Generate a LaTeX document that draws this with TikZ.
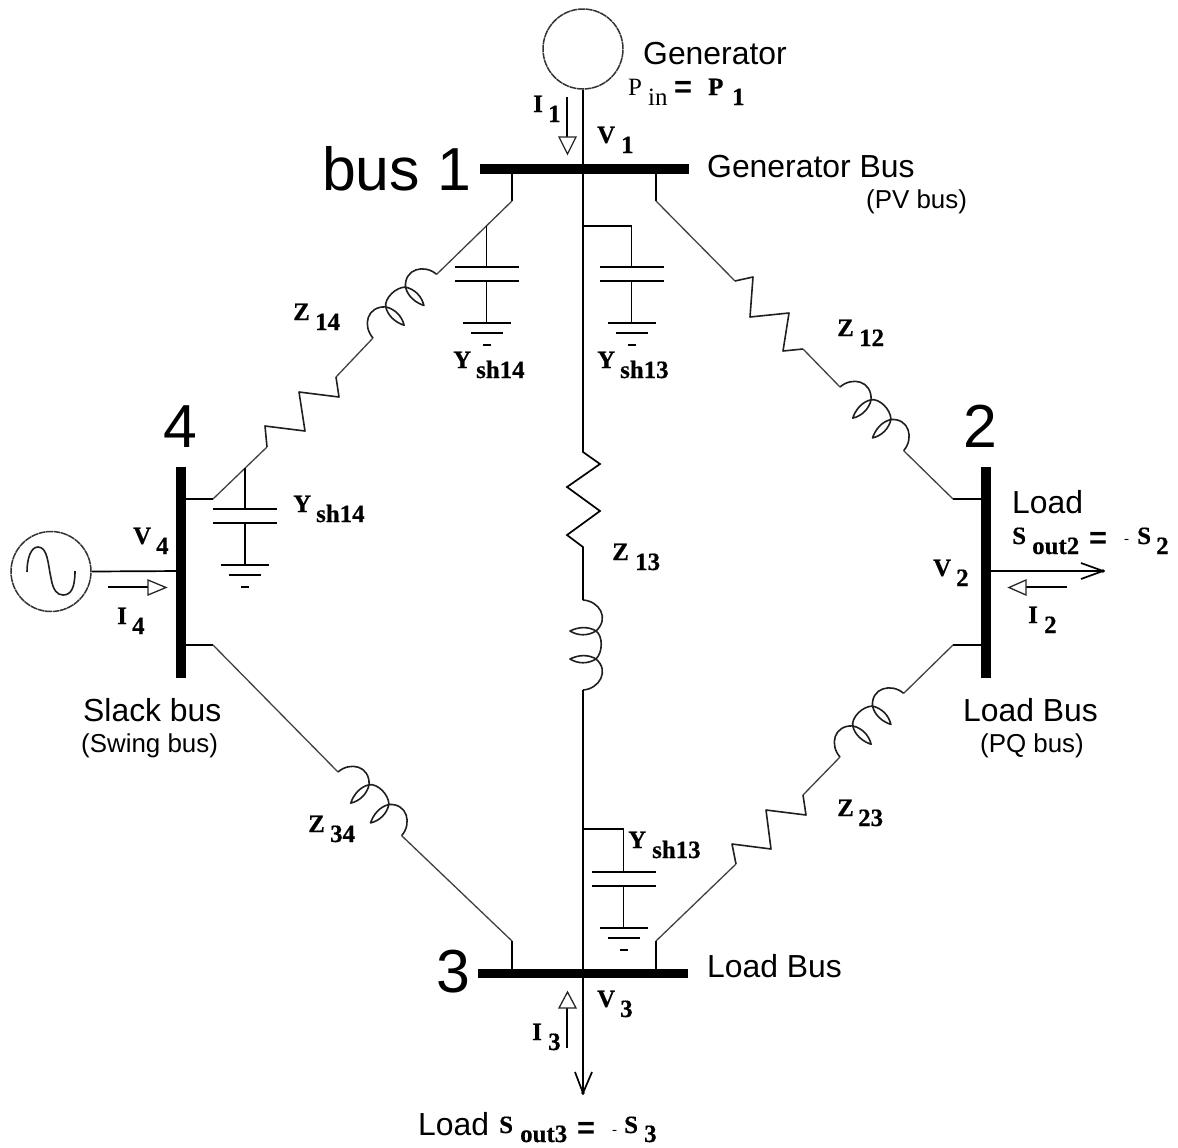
\documentclass[tikz,border=0pt]{standalone}
\usepackage{fontspec}
\setmainfont{Liberation Serif}[BoldFeatures={FakeBold=0.5}]
\setsansfont{Liberation Sans}
\newcommand{\subl}[3]{\makebox[#1bp][l]{#2}\raisebox{-10bp}{#3}}
\newcommand{\sublow}[3]{\makebox[#1bp][l]{#2}\raisebox{-9bp}{#3}}
\tikzset{
  wire/.style={line width=1.7bp,black,line join=miter},
  thinwire/.style={line width=1.3bp,black!75,line join=miter},
  stair/.style={line width=1.6bp,black!88,line join=round},
  busbar/.style={fill=black,draw=none,inner sep=0,rectangle},
  gen/.style={circle,draw=black!80,line width=1.5bp,dash pattern=on 7bp off 0.6bp,inner sep=0,minimum size=80bp},
  hollow/.style={draw=black!85,fill=white,line width=1.3bp,line join=miter},
  txt/.style={inner sep=0,anchor=base west},
  big/.style={txt,font=\sffamily\fontsize{61}{61}\selectfont},
  med/.style={txt,font=\sffamily\fontsize{32}{32}\selectfont},
  small/.style={txt,font=\sffamily\fontsize{26}{26}\selectfont},
  val/.style={txt,font=\bfseries\fontsize{25}{25}\selectfont},
  eqs/.style={txt,font=\sffamily\bfseries\fontsize{31}{31}\selectfont},
  dashmark/.style={txt,font=\fontsize{15}{15}\selectfont},
  inductor/.pic={
    \coordinate (-in) at (0,0);
    \coordinate (-out) at (0,90);
    \draw[stair]
      (0,0) .. controls (16,1) and (27,18) .. (13,31)
      .. controls (5,26) and (-5,27) .. (-13,31)
      .. controls (-5,36) and (5,36) .. (13,31)
      .. controls (20,36) and (20,52) .. (13,59)
      .. controls (5,54) and (-5,55) .. (-13,59)
      .. controls (-5,64) and (5,64) .. (13,59)
      .. controls (27,71) and (16,89) .. (0,90);
  },
  capgnd/.pic={
    \draw[wire] (-32,0) -- (32,0);
    \draw[wire] (-32,14) -- (32,14);
    \draw[wire] (0,14) -- (0,56);
    \draw[wire] (-24,56) -- (24,56);
    \draw[wire] (-16,66) -- (16,66);
    \draw[wire] (-4,78) -- (4,78);
  },
}
\begin{document}
\begin{tikzpicture}[x=1bp,y=-1bp]
\useasboundingbox (0,0) rectangle (1178,1148);

% buses
\node[busbar,minimum width=209bp,minimum height=10bp] (bus1) at (584,169) {};
\node[busbar,minimum width=210bp,minimum height=9.5bp] (bus3) at (583,973.5) {};
\node[busbar,minimum width=10bp,minimum height=211bp] (bus4) at (181,572.5) {};
\node[busbar,minimum width=10bp,minimum height=211bp] (bus2) at (986,572.5) {};

% generators
\node[gen] (g1) at (583,49) {};
\node[gen] (g4) at (51,571.5) {};
\draw[stair] (27,572) .. controls (27,558) and (31,547) .. (38,547)
  .. controls (48,547) and (48,565) .. (51,578)
  .. controls (53,590) and (57,595) .. (63,595)
  .. controls (71,595) and (75,588) .. (75,571);

% junctions
\coordinate (t14) at (512,169);
\coordinate (t12) at (656,169);
\coordinate (b34) at (512,973);
\coordinate (b23) at (656,973);
\coordinate (l14) at (181,499);
\coordinate (l34) at (181,645);
\coordinate (r12) at (986,499);
\coordinate (r23) at (986,645);
\coordinate (m4) at (181,571);
\coordinate (m2) at (986,571);
\coordinate (tip3) at (583,1093);
\coordinate (tip2) at (1103,571);

% inductors
\pic (L12) [rotate=45] at (840,387) {inductor};
\pic (L34) [rotate=45] at (338,772) {inductor};
\pic (L14) [rotate=135] at (373,338) {inductor};
\pic (L23) [rotate=135] at (840,757) {inductor};
\pic (L13) at (583,600) {inductor};

% main vertical line with resistor
\draw[wire] (g1.south) -- (583,452) -- (600,464) -- (567,487) -- (600,511) -- (567,535) -- (583,547) -- (L13-in);
\draw[wire] (L13-out) -- (tip3);
\draw[wire] (575,1072) -- (tip3) -- (592,1072);
\fill (tip3) circle (1.8bp);

% line 1-2
\draw[wire] (t12) -- (656,201);
\draw[thinwire] (656,201) -- (735,281);
\draw[stair] (735,281) -- (753,277) -- (750,317) -- (789,313) -- (783,351) -- (803,349);
\draw[thinwire] (803,349) -- (L12-in);
\draw[thinwire] (L12-out) -- (953,499);
\draw[wire] (953,499) -- (r12);

% line 1-4
\draw[wire] (t14) -- (512,201);
\draw[thinwire] (512,201) -- (L14-out);
\draw[thinwire] (L14-in) -- (336,377);
\draw[stair] (336,377) -- (339,397) -- (299,392) -- (305,431) -- (265,426) -- (267,447);
\draw[thinwire] (267,447) -- (213,499);
\draw[wire] (213,499) -- (l14);

% line 2-3
\draw[wire] (r23) -- (953,645);
\draw[thinwire] (953,645) -- (L23-out);
\draw[thinwire] (L23-in) -- (803,795);
\draw[stair] (803,795) -- (806,815) -- (766,810) -- (771,849) -- (732,844) -- (736,864);
\draw[thinwire] (736,864) -- (656,941);
\draw[wire] (656,941) -- (b23);

% line 3-4
\draw[wire] (l34) -- (213,645);
\draw[thinwire] (213,645) -- (L34-in);
\draw[thinwire] (L34-out) -- (512,941);
\draw[wire] (512,941) -- (b34);

% shunts
\draw[wire] (486.5,226) -- (486.5,267);
\pic at (486.5,267) {capgnd};
\draw[wire] (583,226) -- (631.5,226) -- (631.5,267);
\pic at (631.5,267) {capgnd};
\draw[wire] (245,468) -- (245,509);
\pic at (245,509) {capgnd};
\draw[wire] (583,829) -- (623.5,829) -- (623.5,872);
\pic at (623.5,872) {capgnd};

% generator 4 and load 2
\draw[wire] (g4.east) -- (m4);
\draw[wire] (m2) -- (tip2);
\draw[wire] (1081,563) -- (tip2) -- (1081,579);
\fill (tip2) circle (1.8bp);

% current arrows
\draw[wire] (108,587) -- (148,587);
\draw[hollow] (148,580) -- (166,587.5) -- (148,595) -- cycle;
\draw[wire] (1067,587) -- (1026,587);
\draw[hollow] (1026,580) -- (1009,587.5) -- (1026,595) -- cycle;
\draw[wire] (567,97) -- (567,137);
\draw[hollow] (559,137) -- (567.5,154) -- (576,137) -- cycle;
\draw[wire] (567,1048) -- (567,1008);
\draw[hollow] (559,1008) -- (567.5,992) -- (576,1008) -- cycle;

% big labels
\node[big] (tbus1) at (322,190) {bus 1};
\node[big] (t4) at (163,447) {4};
\node[big] (t2) at (963,447) {2};
\node[big] (t3) at (436,992) {3};

% sans labels
\node[med] (tgen) at (643,64) {Generator};
\node[med] (tgenbus) at (707,177) {Generator Bus};
\node[small] (tpv) at (866,208) {(PV bus)};
\node[med] (tload2) at (1012,513) {Load};
\node[med] (tlb2) at (963,721) {Load Bus};
\node[small] (tpq) at (980,752) {(PQ bus)};
\node[med] (tslack) at (83,721) {Slack bus};
\node[small] (tswing) at (81,752) {(Swing bus)};
\node[med] (tlb3) at (707,977) {Load Bus};
\node[med] (tload3) at (418,1135) {Load};

% impedances
\node[val] (z14) at (293,320) {\subl{22}{Z}{14}};
\node[val] (z12) at (837,336) {\subl{22}{Z}{12}};
\node[val] (z13) at (612,560) {\subl{23}{Z}{13}};
\node[val] (z23) at (837,816) {\subl{21}{Z}{23}};
\node[val] (z34) at (308,832) {\subl{22}{Z}{34}};

% shunt labels
\node[val] (y14a) at (453,368) {\subl{23}{Y}{sh14}};
\node[val] (y13a) at (597,368) {\subl{23}{Y}{sh13}};
\node[val] (y14b) at (293,512) {\subl{23}{Y}{sh14}};
\node[val] (y13b) at (628,848) {\subl{24}{Y}{sh13}};

% voltages and currents
\node[val] (v1) at (597,143) {\subl{24}{V}{1}};
\node[val] (i1) at (533,112) {\subl{15}{I}{1}};
\node[val] (v2) at (933,576) {\subl{23}{V}{2}};
\node[val] (i2) at (1028,623) {\subl{16}{I}{2}};
\node[val] (v3) at (597,1007) {\subl{23}{V}{3}};
\node[val] (i3) at (532,1040) {\subl{16}{I}{3}};
\node[val] (v4) at (133,544) {\subl{23}{V}{4}};
\node[val] (i4) at (117,624) {\subl{15}{I}{4}};

% power expressions
\node[txt,font=\fontsize{25}{25}\selectfont] (pin) at (628,95) {\subl{20}{P}{in}};
\node[eqs] (eq1) at (674,97) {=};
\node[val] (p1) at (708,95) {\subl{24}{P}{1}};

\node[val] (sout2) at (1012,544) {\subl{20}{S}{out2}};
\node[eqs] (eq2) at (1089,548) {=};
\node[dashmark] (m2s) at (1124,543) {-};
\node[val] (s2) at (1137,544) {\subl{19}{S}{2}};

\node[val] (sout3) at (499,1133) {\sublow{21}{S}{out3}};
\node[eqs] (eq3) at (577,1138) {=};
\node[dashmark] (m3s) at (612,1134) {-};
\node[val] (s3) at (624,1133) {\sublow{20}{S}{3}};
\end{tikzpicture}
\end{document}
